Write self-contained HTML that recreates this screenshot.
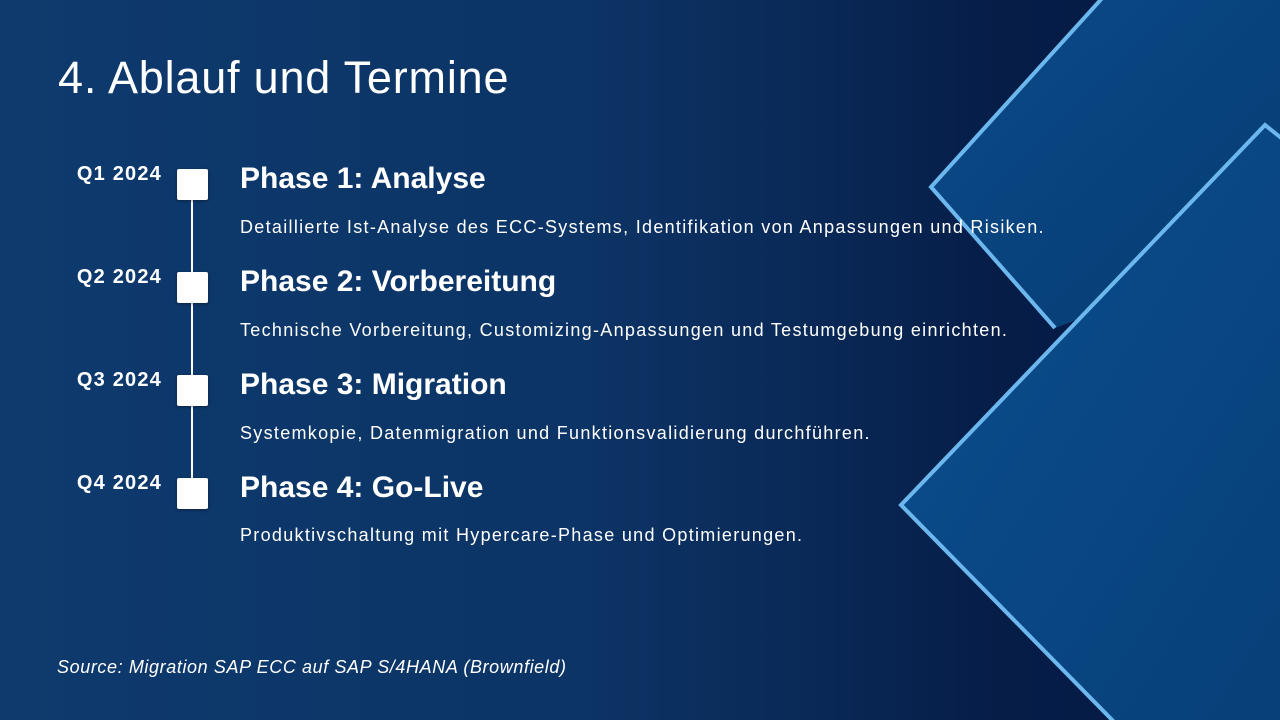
<!DOCTYPE html>
<html><head><meta charset="utf-8"><style>
body{margin:0;width:1280px;height:720px;overflow:hidden;font-family:"Liberation Sans",sans-serif;color:#fff}
.bg{position:absolute;inset:0;background:linear-gradient(90deg,#0e3a6d 0%,#0c3466 45%,#0a2a58 62%,#061d48 78%,#041a45 100%)}
svg{position:absolute;left:0;top:0}
h1{position:absolute;left:58px;top:52px;margin:0;font-weight:400;font-size:45px;letter-spacing:0.8px}
.q{position:absolute;width:112px;left:50px;text-align:right;font-weight:700;font-size:20px;letter-spacing:1.2px}
.sq{position:absolute;left:177px;width:31px;height:31px;background:#fff;border-radius:2px;box-shadow:0 1px 3px rgba(0,0,0,.4)}
.ln{position:absolute;left:191px;width:2px;background:#fff}
.t{position:absolute;left:240px;font-weight:700;font-size:30px}
.d{position:absolute;left:240px;font-size:18px;letter-spacing:1.3px;white-space:nowrap}
.src{position:absolute;left:57px;top:657px;font-style:italic;font-size:18px;letter-spacing:0.6px}
</style></head><body>
<div class="bg"></div>
<svg width="1280" height="720">
<defs><linearGradient id="g" x1="0" y1="0" x2="1" y2="1"><stop offset="0" stop-color="#0a4f8f"/><stop offset="1" stop-color="#083f78"/></linearGradient></defs>
<polygon points="1105,-5 1290,-5 1290,240 1055,328 931,187" fill="url(#g)" opacity=".9"/>
<polyline points="1105,-5 931,187 1055,328" fill="none" stroke="#6cb8ee" stroke-width="4"/>
<polygon points="1265,125 1290,145 1290,730 1120,730 901,505" fill="url(#g)"/>
<polyline points="1290,145 1265,125 901,505 1122,730" fill="none" stroke="#6cb8ee" stroke-width="4"/>
</svg>
<h1>4. Ablauf und Termine</h1>
<div class="ln" style="top:190px;height:310px"></div>
<div class="q" style="top:163px">Q1 2024</div><div class="sq" style="top:169px"></div>
<div class="t" style="top:162px">Phase 1: Analyse</div>
<div class="d" style="top:217px">Detaillierte Ist-Analyse des ECC-Systems, Identifikation von Anpassungen und Risiken.</div>
<div class="q" style="top:266px">Q2 2024</div><div class="sq" style="top:272px"></div>
<div class="t" style="top:265px">Phase 2: Vorbereitung</div>
<div class="d" style="top:320px">Technische Vorbereitung, Customizing-Anpassungen und Testumgebung einrichten.</div>
<div class="q" style="top:369px">Q3 2024</div><div class="sq" style="top:375px"></div>
<div class="t" style="top:368px">Phase 3: Migration</div>
<div class="d" style="top:423px">Systemkopie, Datenmigration und Funktionsvalidierung durchführen.</div>
<div class="q" style="top:472px">Q4 2024</div><div class="sq" style="top:478px"></div>
<div class="t" style="top:471px">Phase 4: Go-Live</div>
<div class="d" style="top:525px">Produktivschaltung mit Hypercare-Phase und Optimierungen.</div>
<div class="src">Source: Migration SAP ECC auf SAP S/4HANA (Brownfield)</div>
</body></html>
